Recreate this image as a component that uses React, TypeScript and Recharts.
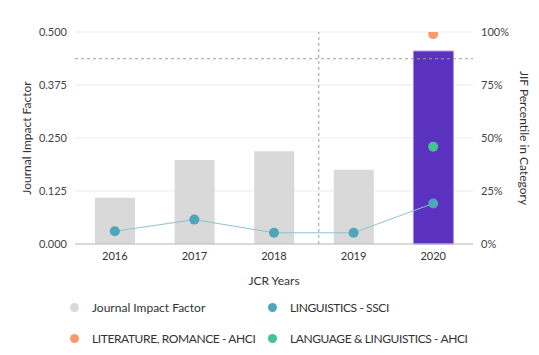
import React from 'react';
import { ComposedChart, Bar, Line, XAxis, YAxis, CartesianGrid, ReferenceLine, Cell } from 'recharts';

const years = ['2016', '2017', '2018', '2019', '2020'];
const jif = [0.109, 0.198, 0.219, 0.175, 0.455];
const linguisticsSsci = [6.0, 11.5, 5.3, 5.3, 19.1];
const literatureRomance = [null, null, null, null, 99.0];
const languageLinguistics = [null, null, null, null, 45.9];
const barColors = ['#d9d9d9', '#d9d9d9', '#d9d9d9', '#d9d9d9', '#5b31bf'];
const leftTicks = [0, 0.125, 0.25, 0.375, 0.5];
const rightTicks = [0, 25, 50, 75, 100];
const medianJif = 0.437;
const splitPosition = 2.45;

const legendItems = [
  { name: 'Journal Impact Factor', color: '#d9d9d9' },
  { name: 'LINGUISTICS - SSCI', color: '#4fa5bb' },
  { name: 'LITERATURE, ROMANCE - AHCI', color: '#f79b69' },
  { name: 'LANGUAGE & LINGUISTICS - AHCI', color: '#41c48e' },
];

const data = years.map((y, i) => ({
  year: y,
  jif: jif[i],
  ssci: linguisticsSsci[i],
  rom: literatureRomance[i],
  lang: languageLinguistics[i],
}));

const FONT = 'Lato, "Noto Sans", sans-serif';

export default function App() {
  return (
    <div style={{ position: 'absolute', left: 0, top: 0, width: 539, height: 355, background: '#fff', fontFamily: FONT }}>
      <ComposedChart width={539} height={300} data={data} margin={{ top: 32, right: 0, left: 0, bottom: 0 }}>
        <CartesianGrid vertical={false} stroke="#ebebeb" yAxisId="left" xAxisId="cat" />
        <XAxis
          xAxisId="cat"
          dataKey="year"
          height={56}
          tickLine={false}
          axisLine={{ stroke: '#bdbdbd' }}
          tick={{ fill: '#333', fontSize: 11, fontFamily: FONT }}
          label={{ value: 'JCR Years', position: 'insideTop', offset: 32, fill: '#333', fontSize: 12, fontFamily: FONT }}
        />
        <XAxis xAxisId="num" type="number" domain={[0, 4]} allowDataOverflow hide />
        <YAxis
          yAxisId="left"
          width={75}
          domain={[0, 0.5]}
          ticks={leftTicks}
          tickFormatter={(v: number) => v.toFixed(3)}
          tickLine={false}
          axisLine={false}
          tick={{ fill: '#444', fontSize: 11, fontFamily: FONT }}
          label={{ value: 'Journal Impact Factor', angle: -90, position: 'center', dx: -11, fill: '#333', fontSize: 12, fontFamily: FONT }}
        />
        <YAxis
          yAxisId="right"
          orientation="right"
          width={66}
          domain={[0, 100]}
          allowDataOverflow
          ticks={rightTicks}
          tickFormatter={(v: number) => `${v}%`}
          tickLine={false}
          axisLine={false}
          tick={{ fill: '#444', fontSize: 11, fontFamily: FONT }}
          label={{ value: 'JIF Percentile in Category', angle: 90, position: 'center', dx: 18, fill: '#333', fontSize: 12, fontFamily: FONT }}
        />
        <Bar xAxisId="cat" yAxisId="left" dataKey="jif" barSize={40} isAnimationActive={false}>
          {data.map((d, i) => (
            <Cell key={d.year} fill={barColors[i]} stroke={i === 4 ? '#a48de3' : 'none'} strokeWidth={1} />
          ))}
        </Bar>
        <ReferenceLine xAxisId="cat" yAxisId="left" y={medianJif} stroke="#9e9e9e" strokeDasharray="3 3" />
        <ReferenceLine xAxisId="num" yAxisId="left" x={splitPosition} stroke="#9e9e9e" strokeDasharray="3 3" />
        <Line xAxisId="cat" yAxisId="right" dataKey="ssci" stroke="#8cc3d1" strokeWidth={1} dot={{ r: 5, fill: '#4fa5bb', stroke: 'none' }} activeDot={false} isAnimationActive={false} />
        <Line xAxisId="cat" yAxisId="right" dataKey="rom" stroke="#f79b69" dot={{ r: 5, fill: '#f79b69', stroke: 'none', clipDot: true }} activeDot={false} isAnimationActive={false} />
        <Line xAxisId="cat" yAxisId="right" dataKey="lang" stroke="#41c48e" dot={{ r: 5, fill: '#41c48e', stroke: 'none' }} activeDot={false} isAnimationActive={false} />
      </ComposedChart>
      <div style={{ position: 'absolute', left: 70, top: 298, width: 469, display: 'grid', gridTemplateColumns: '198px 271px', rowGap: 13 }}>
        {legendItems.map((it) => (
          <div key={it.name} style={{ display: 'flex', alignItems: 'center', height: 18, fontSize: 12, color: '#333', whiteSpace: 'nowrap' }}>
            <span style={{ width: 9, height: 9, borderRadius: '50%', background: it.color, display: 'inline-block', marginRight: 13, flexShrink: 0 }} />
            <span style={{ letterSpacing: it.name === it.name.toUpperCase() ? -0.4 : 0 }}>{it.name}</span>
          </div>
        ))}
      </div>
    </div>
  );
}
